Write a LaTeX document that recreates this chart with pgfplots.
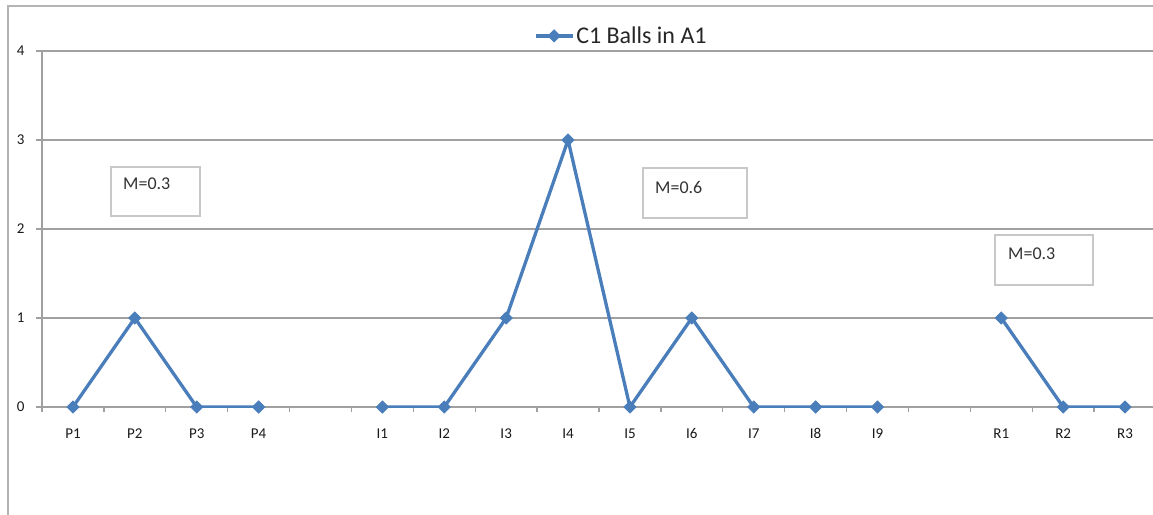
\documentclass[border=0pt]{standalone}
\usepackage{fontspec}
\setmainfont{Carlito}
\usepackage{pgfplots}
\pgfplotsset{compat=1.18}

\definecolor{serblue}{RGB}{74,126,187}
\definecolor{gridgray}{RGB}{160,160,160}
\definecolor{framegray}{RGB}{180,180,180}
\definecolor{boxgray}{RGB}{200,200,200}

\begin{document}
\begin{tikzpicture}
\begin{axis}[
	at={(42pt,-407pt)}, anchor=south west,
	scale only axis,
	width=1114pt, height=356pt,
	xmin=-0.5, xmax=17.5,
	ymin=0, ymax=4,
	axis x line*=bottom, axis y line*=left,
	axis line style={gridgray, line width=1.5pt, -},
	xtick={0,...,17},
	xticklabels={P1,P2,P3,P4,{},I1,I2,I3,I4,I5,I6,I7,I8,I9,{},R1,R2,R3},
	minor xtick={-0.5,0.5,...,17.5},
	ytick={0,1,2,3,4},
	ymajorgrids,
	grid style={gridgray, line width=1.5pt},
	tick align=outside,
	major x tick style={draw=none},
	minor tick length=5pt,
	major tick length=6pt,
	tick style={gridgray, line width=1.3pt},
	/pgf/number format/assume math mode=true,
	ticklabel style={font=\fontsize{15}{18}\selectfont, text=black!90},
	xticklabel style={yshift=-12pt},
	yticklabel style={xshift=-8pt},
	unbounded coords=jump,
	legend style={at={(axis description cs:0.52,1.005)}, anchor=south,
		draw=none, fill=none, font=\fontsize{24}{28}\selectfont,
		text=black!85},
	legend image code/.code={
		\draw[mark repeat=2,mark phase=2] plot coordinates {(0pt,0pt) (18.5pt,0pt) (37pt,0pt)};
	},
]
\addplot[serblue, line width=3.3pt, mark=square*,
	mark options={rotate=45, solid, line width=1pt}, mark size=4.2pt] coordinates {
	(0,0) (1,1) (2,0) (3,0) (4,nan)
	(5,0) (6,0) (7,1) (8,3) (9,0) (10,1) (11,0) (12,0) (13,0) (14,nan)
	(15,1) (16,0) (17,0)
};
\addlegendentry{C1 Balls in A1}
\end{axis}
% annotation boxes
\draw[boxgray, line width=1.2pt] (111pt,-167pt) rectangle (200pt,-216pt);
\node[anchor=north west, inner sep=0pt, font=\fontsize{18}{21}\selectfont, text=black!80] at (123pt,-178pt) {M=0.3};
\draw[boxgray, line width=1.2pt] (643pt,-168pt) rectangle (747pt,-218pt);
\node[anchor=north west, inner sep=0pt, font=\fontsize{18}{21}\selectfont, text=black!80] at (655pt,-181pt) {M=0.6};
\draw[boxgray, line width=1.2pt] (995pt,-235pt) rectangle (1093pt,-285pt);
\node[anchor=north west, inner sep=0pt, font=\fontsize{18}{21}\selectfont, text=black!80] at (1008pt,-248pt) {M=0.3};
% outer frame
\draw[framegray, line width=1.5pt] (8pt,-520pt) -- (8pt,-6pt) -- (1160pt,-6pt);
\pgfresetboundingbox
\path (0pt,0pt) rectangle (1153pt,-514pt);
\end{tikzpicture}
\end{document}
